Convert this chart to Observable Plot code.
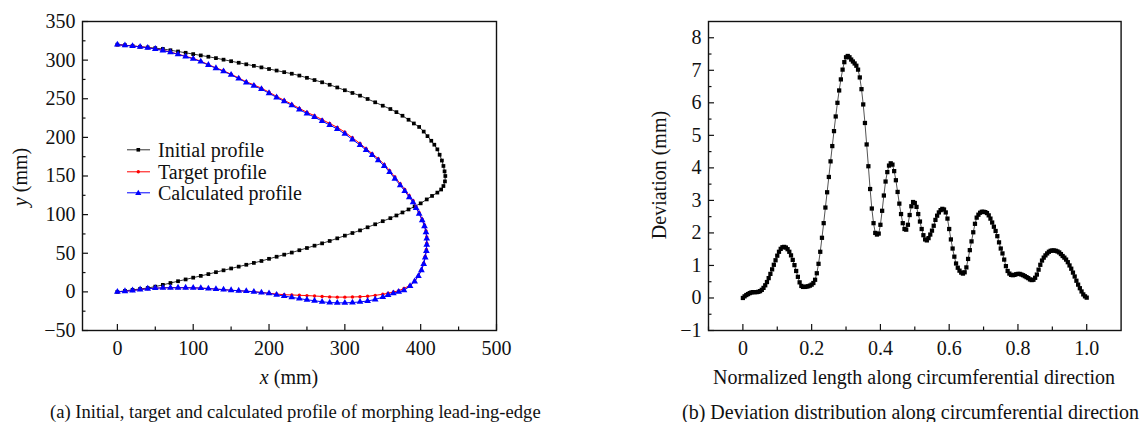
<!DOCTYPE html>
<html><head><meta charset="utf-8">
<script src="https://cdn.jsdelivr.net/npm/d3@7"></script>
<script src="https://cdn.jsdelivr.net/npm/@observablehq/plot@0.6"></script>
<style>
body{margin:0;background:#fff;}
#root{position:relative;width:1140px;height:422px;overflow:hidden;background:#fff;font-family:"Liberation Serif","Times New Roman",serif;color:#111;}
.abs{position:absolute;white-space:nowrap;line-height:1;}
</style></head><body><div id="root"></div>
<script>
// ---------- Panel (a) data: profiles [x (mm), y (mm)] ----------
const initialProfile = [[0,320],[10,319.3],[20,318.3],[30,317.3],[40,316.4],[50,315.5],[60,314.5],[70,312.8],[80,311.2],[90,309.5],[100,307.8],[110,306.1],[120,304.4],[130,302.6],[140,300.6],[150,298.6],[160,296.6],[170,294.6],[180,292.6],[190,290.6],[200,288.5],[210,286.5],[220,284.4],[230,282.4],[240,280],[250,277.1],[260,274.2],[270,271.3],[280,268.1],[290,264.6],[300,261],[310,257.5],[320,254],[330,249.7],[340,245.4],[350,241],[360,236.7],[368,232.7],[376,228],[384,222.8],[391,218],[398,213.5],[404,207.5],[409,201.6],[414,195.6],[418,190.5],[422,184.5],[425,177.5],[428,170],[430,163],[431.5,156],[432.5,150],[432,143],[430,137],[427,132.5],[422,128.5],[415,124.2],[408,119.7],[400,114.6],[392,110.5],[384,106.7],[376,102.8],[368,98.9],[360,95.4],[350,91.5],[340,87.5],[330,83.6],[320,79.6],[310,76.2],[300,72.8],[290,69.3],[280,65.9],[270,62.8],[260,59.8],[250,56.8],[240,53.9],[230,50.9],[220,48.2],[210,45.5],[200,42.8],[190,40],[180,37.5],[170,35.1],[160,32.7],[150,30.3],[140,27.9],[130,25.5],[120,23],[110,20.7],[100,18.4],[90,16.1],[80,13.8],[70,11.5],[60,9.1],[50,6.8],[40,5],[30,3.8],[20,2.6],[10,1.3],[0,0]];
const targetProfile = [[0,320],[10,319.3],[20,318.4],[30,317.4],[40,316.2],[50,314.6],[60,312.8],[70,310.4],[80,307.8],[90,305],[100,302.2],[110,298.6],[120,294.2],[130,290],[140,286.2],[150,281.8],[160,276.9],[170,272],[180,268],[190,263.7],[200,258.5],[210,253],[220,248],[230,243],[240,237.5],[250,232.5],[260,228],[270,223],[280,218],[290,213],[300,206.8],[310,199.5],[320,192],[328,185.5],[336,179],[344,172.5],[352,165],[359,157],[366,148.7],[373,140],[379,132.5],[385,124.5],[390,118],[394,110],[398,102.5],[402,94],[405,86.5],[407,79],[408,71],[408,63],[407.5,55],[406,46],[404,37],[401,28.5],[397,21],[392,14],[386,8.4],[378,4.5],[371,1.5],[364,-0.2],[357,-1.8],[350,-3.1],[340,-4.5],[330,-5.7],[320,-6.3],[310,-6.6],[300,-6.8],[290,-6.8],[280,-6.5],[270,-5.9],[260,-5.3],[250,-4.8],[240,-4.4],[230,-4],[220,-3.7],[210,-2.8],[200,-1.8],[190,-0.8],[180,0.3],[170,0.9],[160,1.5],[150,2.1],[140,2.9],[130,3.6],[120,4.3],[110,4.9],[100,5.2],[90,5.4],[80,5.4],[70,5.4],[60,5.2],[50,4.8],[40,4.1],[30,3.1],[20,1.8],[10,0.8],[0,0]];
const calculatedProfile = [[0,320],[10,319.2],[20,318.2],[30,317.2],[40,316],[50,314.4],[60,312.5],[70,310.1],[80,307.4],[90,304.6],[100,301.6],[110,298],[120,293.7],[130,289.5],[140,285.5],[150,281],[160,276],[170,271],[180,266.8],[190,262.4],[200,257.2],[210,251.7],[220,246.6],[230,241.5],[240,236],[250,230.8],[260,226.2],[270,221],[280,216],[290,210.8],[300,204.5],[310,197.3],[320,190],[328,183.5],[336,177],[344,170.2],[352,163],[359,155],[366,146.5],[373,138],[379,130.5],[385,122.5],[390,116],[394,108.5],[398,101],[402,92.5],[405,85],[407,77],[408,69],[408,61],[407.5,53],[406,44.5],[404,36],[401,28],[397,20.5],[392,13.5],[386,7.5],[378,2],[371,0],[364,-1.8],[357,-4],[350,-6.7],[340,-9.8],[330,-11.8],[320,-13],[310,-13.8],[300,-14.2],[290,-14.2],[280,-13.8],[270,-12.8],[260,-11.5],[250,-10.2],[240,-8.7],[230,-7],[220,-5.4],[210,-3.8],[200,-2],[190,-0.9],[180,0.1],[170,0.9],[160,1.5],[150,2.1],[140,2.9],[130,3.6],[120,4.3],[110,4.9],[100,5.2],[90,5.4],[80,5.4],[70,5.4],[60,5.2],[50,4.8],[40,4.1],[30,3.1],[20,1.8],[10,0.8],[0,0]];
const profileNames = ["Initial profile", "Target profile", "Calculated profile"];
const profileXTicks = [0, 100, 200, 300, 400, 500];
const profileXMinor = [50, 150, 250, 350, 450];
const profileYTicks = [-50, 0, 50, 100, 150, 200, 250, 300, 350];
const profileYMinor = [-25, 25, 75, 125, 175, 225, 275, 325];

// ---------- Panel (b) data: [normalized length, deviation (mm)] ----------
const deviation = [[0,0],[0.005,0.05],[0.01,0.09],[0.015,0.12],[0.02,0.15],[0.025,0.17],[0.03,0.18],[0.035,0.18],[0.04,0.18],[0.045,0.19],[0.05,0.21],[0.055,0.25],[0.06,0.31],[0.065,0.39],[0.07,0.49],[0.075,0.61],[0.08,0.74],[0.085,0.88],[0.09,1.02],[0.095,1.16],[0.1,1.3],[0.105,1.42],[0.11,1.51],[0.115,1.56],[0.12,1.57],[0.125,1.55],[0.13,1.5],[0.135,1.42],[0.14,1.31],[0.145,1.17],[0.15,1.01],[0.155,0.83],[0.16,0.65],[0.165,0.48],[0.17,0.37],[0.175,0.34],[0.18,0.34],[0.185,0.35],[0.19,0.36],[0.195,0.38],[0.2,0.41],[0.205,0.46],[0.21,0.56],[0.215,0.76],[0.22,1.05],[0.225,1.42],[0.23,1.85],[0.235,2.3],[0.24,2.78],[0.245,3.25],[0.25,3.72],[0.255,4.2],[0.26,4.67],[0.265,5.13],[0.27,5.58],[0.275,6],[0.28,6.38],[0.285,6.72],[0.29,7.02],[0.295,7.25],[0.3,7.4],[0.305,7.44],[0.31,7.4],[0.315,7.33],[0.32,7.27],[0.325,7.21],[0.33,7.14],[0.335,7.02],[0.34,6.78],[0.345,6.42],[0.35,5.95],[0.355,5.38],[0.36,4.72],[0.365,4.05],[0.37,3.35],[0.375,2.75],[0.38,2.3],[0.385,2],[0.39,1.95],[0.395,1.98],[0.4,2.25],[0.405,2.68],[0.41,3.15],[0.415,3.58],[0.42,3.87],[0.425,4.07],[0.43,4.14],[0.435,4.1],[0.44,3.9],[0.445,3.62],[0.45,3.26],[0.455,2.9],[0.46,2.58],[0.465,2.3],[0.47,2.12],[0.475,2.1],[0.48,2.25],[0.485,2.55],[0.49,2.82],[0.495,2.95],[0.5,2.92],[0.505,2.8],[0.51,2.58],[0.515,2.35],[0.52,2.12],[0.525,1.93],[0.53,1.8],[0.535,1.77],[0.54,1.84],[0.545,1.95],[0.55,2.07],[0.555,2.22],[0.56,2.4],[0.565,2.53],[0.57,2.63],[0.575,2.7],[0.58,2.74],[0.585,2.72],[0.59,2.63],[0.595,2.44],[0.6,2.12],[0.605,1.8],[0.61,1.52],[0.615,1.27],[0.62,1.06],[0.625,0.93],[0.63,0.84],[0.635,0.78],[0.64,0.75],[0.645,0.79],[0.65,0.94],[0.655,1.2],[0.66,1.47],[0.665,1.74],[0.67,2.02],[0.675,2.28],[0.68,2.47],[0.685,2.56],[0.69,2.62],[0.695,2.65],[0.7,2.65],[0.705,2.64],[0.71,2.61],[0.715,2.54],[0.72,2.44],[0.725,2.32],[0.73,2.19],[0.735,2.06],[0.74,1.9],[0.745,1.71],[0.75,1.52],[0.755,1.37],[0.76,1.18],[0.765,0.98],[0.77,0.83],[0.775,0.75],[0.78,0.71],[0.785,0.7],[0.79,0.71],[0.795,0.73],[0.8,0.74],[0.805,0.74],[0.81,0.72],[0.815,0.7],[0.82,0.67],[0.825,0.64],[0.83,0.61],[0.835,0.57],[0.84,0.55],[0.845,0.56],[0.85,0.62],[0.855,0.72],[0.86,0.87],[0.865,1.02],[0.87,1.15],[0.875,1.24],[0.88,1.31],[0.885,1.37],[0.89,1.42],[0.895,1.45],[0.9,1.46],[0.905,1.46],[0.91,1.45],[0.915,1.43],[0.92,1.4],[0.925,1.35],[0.93,1.29],[0.935,1.24],[0.94,1.18],[0.945,1.1],[0.95,1],[0.955,0.9],[0.96,0.78],[0.965,0.66],[0.97,0.53],[0.975,0.41],[0.98,0.3],[0.985,0.2],[0.99,0.11],[0.995,0.05],[1,0.01]];
const devXTicks = [0, 0.2, 0.4, 0.6, 0.8, 1.0];
const devXTickLabels = ["0", "0.2", "0.4", "0.6", "0.8", "1.0"];
const devXMinor = [-0.1, 0.1, 0.3, 0.5, 0.7, 0.9];
const devYTicks = [-1, 0, 1, 2, 3, 4, 5, 6, 7, 8];
const devYMinor = [-0.5, 0.5, 1.5, 2.5, 3.5, 4.5, 5.5, 6.5, 7.5];

// ---------- Text ----------
const captionA = "(a) Initial, target and calculated profile of morphing lead-ing-edge";
const captionB = "(b) Deviation distribution along circumferential direction";
const devXTitle = "Normalized length along circumferential direction";
const devYTitle = "Deviation (mm)";

const serif = '"Liberation Serif","Times New Roman",serif';
const px = d => d[0], py = d => d[1];
const styleBase = {fontFamily: serif, fontSize: "20px", color: "#111", background: "transparent", overflow: "visible"};

function axesFor(xT, xM, yT, yM, xFmt) {
  return [
    Plot.axisX(xT, {anchor: "bottom", tickSize: 0, tickPadding: 10, label: null, tickFormat: xFmt, fontSize: 20}),
    Plot.axisX(xT, {anchor: "bottom", tickSize: -6, tickFormat: () => "", label: null, strokeWidth: 1.2}),
    Plot.axisX(xM, {anchor: "bottom", tickSize: -3.5, tickFormat: () => "", label: null, strokeWidth: 1.2}),
    Plot.axisY(yT, {anchor: "left", tickSize: 0, tickPadding: 7, label: null, fontSize: 20}),
    Plot.axisY(yT, {anchor: "left", tickSize: -6, tickFormat: () => "", label: null, strokeWidth: 1.2}),
    Plot.axisY(yM, {anchor: "left", tickSize: -3.5, tickFormat: () => "", label: null, strokeWidth: 1.2}),
    Plot.frame({stroke: "#111", strokeWidth: 1.4})
  ];
}

const left = Plot.plot({
  width: 520, height: 395,
  marginLeft: 82, marginRight: 24, marginTop: 21, marginBottom: 65,
  x: {domain: [-46, 500], axis: null},
  y: {domain: [-50, 350], axis: null},
  style: styleBase,
  marks: [
    Plot.line(initialProfile, {x: px, y: py, stroke: "#333", strokeWidth: 1}),
    Plot.dot(initialProfile, {x: px, y: py, symbol: "square", r: 2.1, fill: "#000", stroke: "none"}),
    Plot.line(targetProfile, {x: px, y: py, stroke: "#ff0000", strokeWidth: 1}),
    Plot.dot(targetProfile, {x: px, y: py, symbol: "circle", r: 1.7, fill: "#ff0000", stroke: "none"}),
    Plot.line(calculatedProfile, {x: px, y: py, stroke: "#0000ff", strokeWidth: 1}),
    Plot.dot(calculatedProfile, {x: px, y: py, symbol: "triangle", r: 2.5, fill: "#0000ff", stroke: "none"}),
    ...axesFor(profileXTicks, profileXMinor, profileYTicks, profileYMinor, d => String(d))
  ]
});

const right = Plot.plot({
  width: 540, height: 395,
  marginLeft: 108, marginRight: 19.4, marginTop: 21, marginBottom: 65,
  x: {domain: [-0.1, 1.1], axis: null},
  y: {domain: [-1, 8.5], axis: null},
  style: styleBase,
  marks: [
    Plot.line(deviation, {x: px, y: py, stroke: "#555", strokeWidth: 1}),
    Plot.dot(deviation, {x: px, y: py, symbol: "square", r: 2.4, fill: "#000", stroke: "none"}),
    ...axesFor(devXTicks, devXMinor, devYTicks, devYMinor, d => devXTickLabels[devXTicks.indexOf(d)])
  ]
});

const root = document.getElementById("root");
left.style.position = "absolute"; left.style.left = "0px"; left.style.top = "0px";
right.style.position = "absolute"; right.style.left = "600px"; right.style.top = "0px";
root.appendChild(left);
root.appendChild(right);

function addText(html, css) {
  const d = document.createElement("div");
  d.className = "abs";
  d.innerHTML = html;
  Object.assign(d.style, css);
  root.appendChild(d);
  return d;
}
// axis titles
addText('<i>x</i> (mm)', {left: "289px", top: "377px", fontSize: "20px", transform: "translate(-50%,-50%)"});
addText('<i>y</i> (mm)', {left: "20px", top: "177px", fontSize: "20px", transform: "translate(-50%,-50%) rotate(-90deg)"});
addText(devYTitle, {left: "659px", top: "175px", fontSize: "20px", transform: "translate(-50%,-50%) rotate(-90deg)"});
addText(devXTitle, {left: "914px", top: "377px", fontSize: "20px", transform: "translate(-50%,-50%)"});
// captions
addText(captionA, {left: "50px", top: "412px", fontSize: "18.6px", transform: "translateY(-50%)"});
addText(captionB, {left: "682px", top: "412px", fontSize: "20px", transform: "translateY(-50%)"});

// legend (inside panel a)
const legendLine = ["#333", "#ff0000", "#0000ff"];
const legendSym = [
  '<rect x="9.5" y="8" width="3.6" height="3.6" fill="#000"/>',
  '<circle cx="11.3" cy="9.8" r="1.7" fill="#ff0000"/>',
  '<path d="M11.3,6.7 L14.4,12 L8.2,12 Z" fill="#0000ff"/>'
];
const legendTops = [150, 172, 193];
profileNames.forEach((name, i) => {
  addText(
    `<svg width="24" height="20" style="margin-right:7px"><line x1="0" x2="23" y1="9.8" y2="9.8" stroke="${legendLine[i]}" stroke-width="1"/>${legendSym[i]}</svg><span>${name}</span>`,
    {left: "127px", top: legendTops[i] + "px", fontSize: "20px", transform: "translateY(-50%)", display: "flex", alignItems: "center"}
  );
});
</script>
</body></html>
